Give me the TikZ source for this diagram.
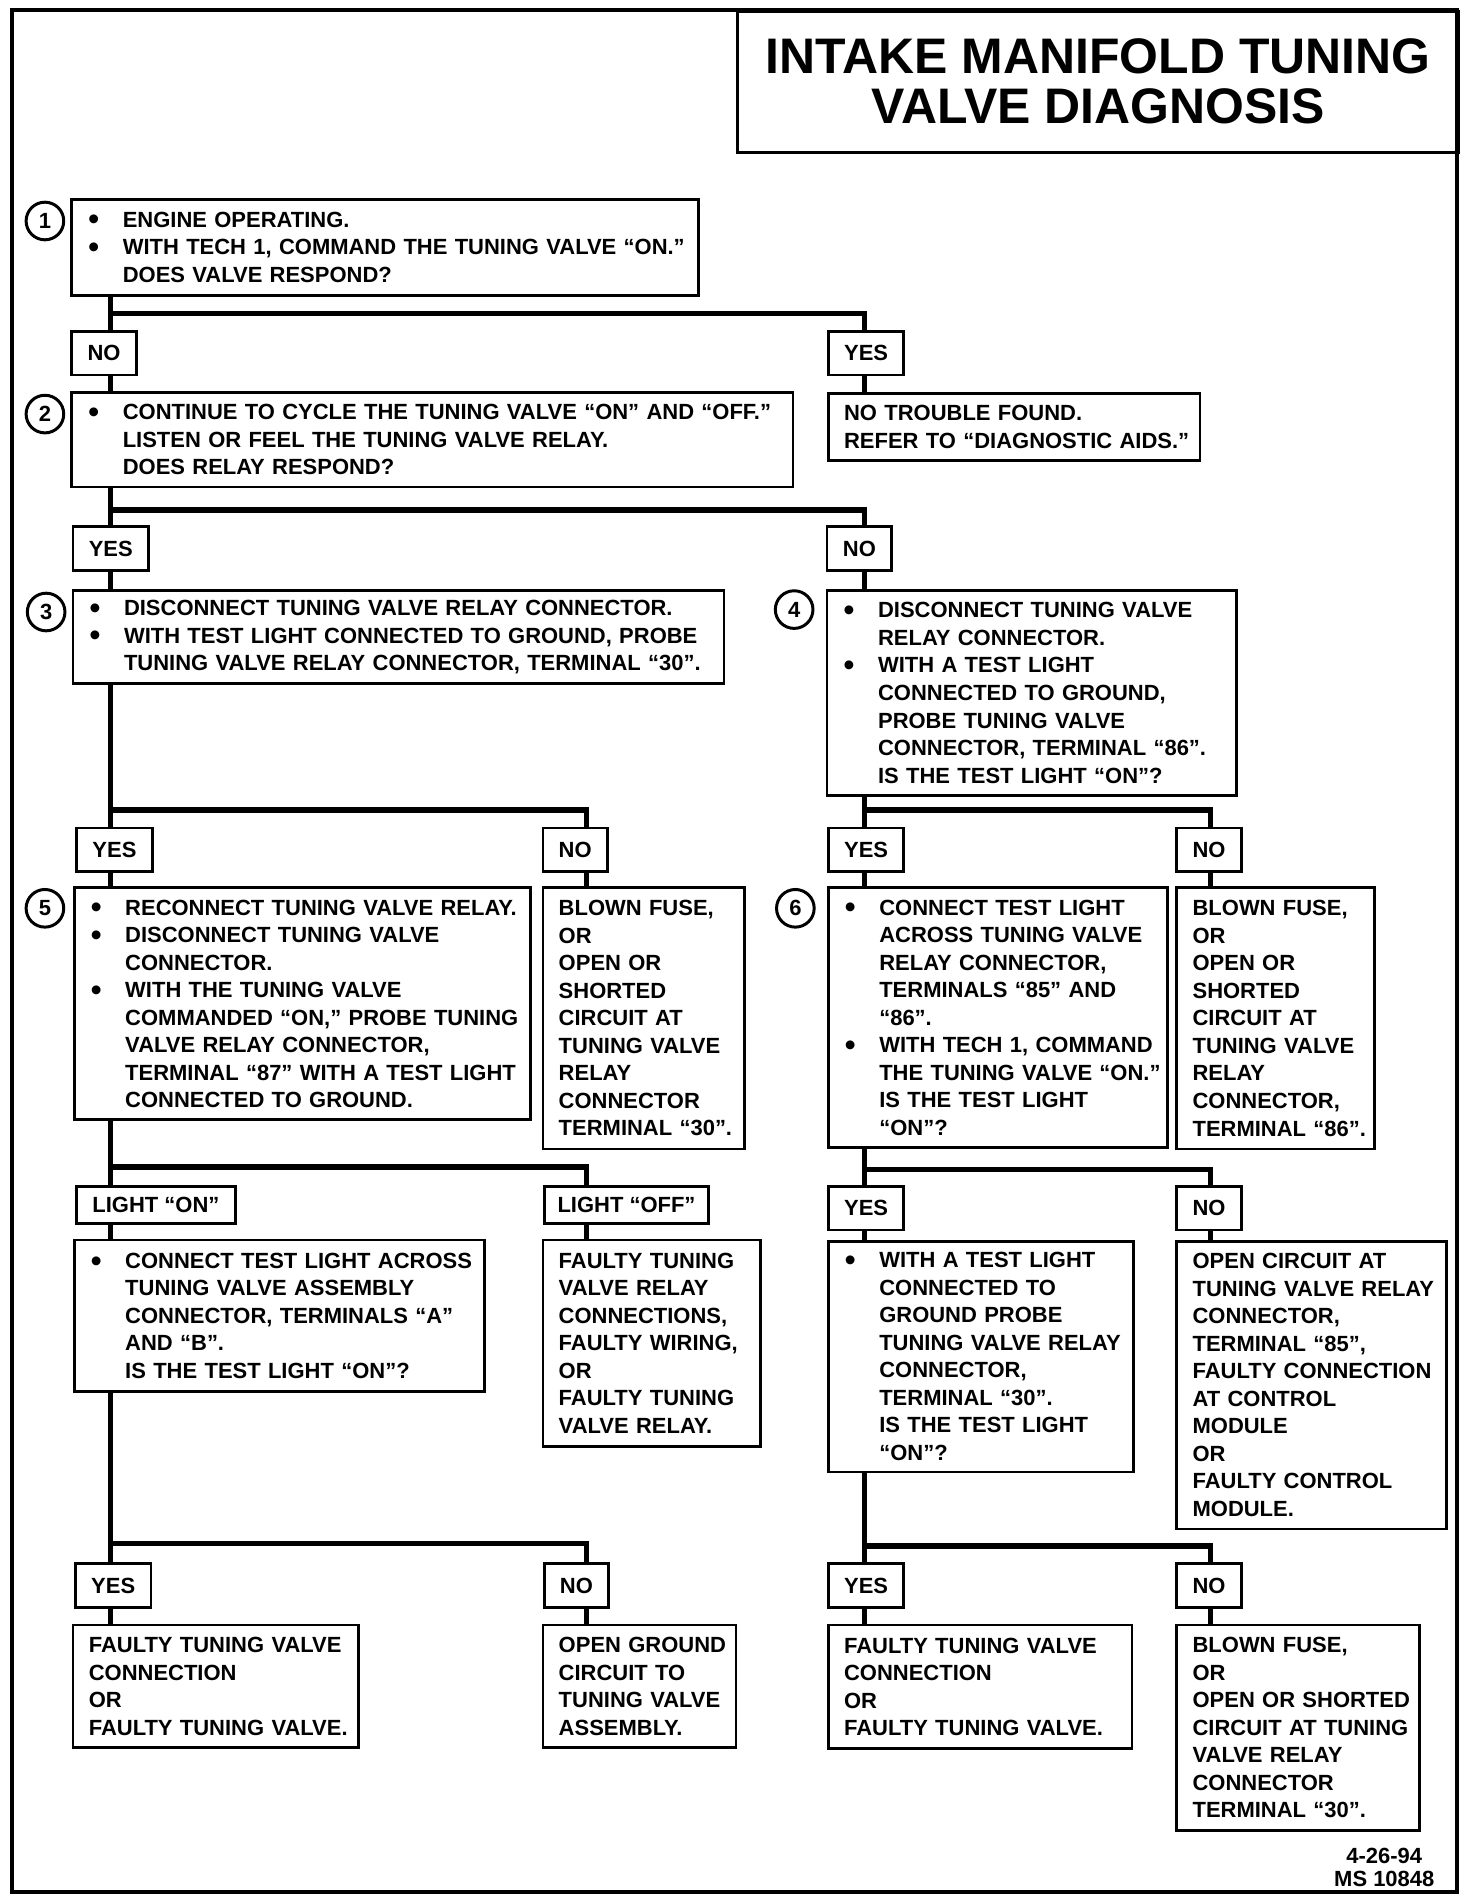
\documentclass[tikz,border=0pt]{standalone}
\usepackage{fontspec}
\setmainfont{Liberation Sans}
\usetikzlibrary{positioning}

\newcommand\bodyfont{\fontsize{10.3}{12.9}\selectfont\bfseries}
\newcommand\titlefont{\fontsize{23.4}{23.4}\selectfont\bfseries}
\newcommand\bu{\leavevmode\llap{\raisebox{-0.12em}{\scalebox{1.4}{\textbullet}}\hspace{0.39cm}}}

\begin{document}
\begin{tikzpicture}[x=0.02cm, y=-0.02cm,
    stepbox/.style={draw, line width=1.3pt, anchor=north west, inner xsep=0.08cm,
                    inner ysep=0pt, align=left, font=\bodyfont},
    bul/.style={stepbox, execute at begin node={\leftskip=0.76cm\rightskip=0pt plus 1fill minus 3cm}},
    plain/.style={stepbox, execute at begin node={\leftskip=0.18cm\rightskip=0pt plus 1fill minus 3cm}},
    sz/.style 2 args={text width=#1*0.02cm-0.16cm, minimum height=#2*0.02cm},
    lbl/.style={draw, line width=1.3pt, inner xsep=0.26cm, inner ysep=0pt,
                minimum height=0.72cm, font=\bodyfont},
    num/.style={draw, circle, line width=1.4pt, minimum size=0.62cm, inner sep=0pt, font=\bodyfont},
    conn/.style={line width=2.6pt}
  ]
  \useasboundingbox (0,0) rectangle (1212,1568);
  \draw[line width=1.7pt] (10,8) rectangle (1200,1558);

  % title
  \node[draw, line width=1.5pt, anchor=north west, minimum width=594*0.02cm, minimum height=116*0.02cm,
        align=center, font=\titlefont] (ttl) at (606,8) {INTAKE MANIFOLD TUNING\\VALVE DIAGNOSIS};

  % steps
  \node[bul, sz={516}{79}] (s1) at (58,163) {\bu ENGINE OPERATING.\\
    \bu WITH TECH 1, COMMAND THE TUNING VALVE ``ON.''\\ DOES VALVE RESPOND?};
  \node[bul, sz={594}{78}] (s2) at (58,322) {\bu CONTINUE TO CYCLE THE TUNING VALVE ``ON'' AND ``OFF.''\\
    LISTEN OR FEEL THE TUNING VALVE RELAY.\\ DOES RELAY RESPOND?};
  \node[plain, sz={306}{55}] (ntf) at (681,323) {NO TROUBLE FOUND.\\ REFER TO ``DIAGNOSTIC AIDS.''};
  \node[bul, sz={536}{77}] (s3) at (59,485) {\bu DISCONNECT TUNING VALVE RELAY CONNECTOR.\\
    \bu WITH TEST LIGHT CONNECTED TO GROUND, PROBE\\ TUNING VALVE RELAY CONNECTOR, TERMINAL ``30''.};
  \node[bul, sz={337}{169}] (s4) at (680,485) {\bu DISCONNECT TUNING VALVE\\ RELAY CONNECTOR.\\
    \bu WITH A TEST LIGHT\\ CONNECTED TO GROUND,\\ PROBE TUNING VALVE\\
    CONNECTOR, TERMINAL ``86''.\\ IS THE TEST LIGHT ``ON''?};
  \node[bul, sz={376}{191}] (s5) at (60,730) {\bu RECONNECT TUNING VALVE RELAY.\\
    \bu DISCONNECT TUNING VALVE\\ CONNECTOR.\\ \bu WITH THE TUNING VALVE\\
    COMMANDED ``ON,'' PROBE TUNING\\ VALVE RELAY CONNECTOR,\\
    TERMINAL ``87'' WITH A TEST LIGHT\\ CONNECTED TO GROUND.};
  \node[plain, sz={166}{215}] (fuseA) at (446,730) {BLOWN FUSE,\\ OR\\ OPEN OR\\ SHORTED\\
    CIRCUIT AT\\ TUNING VALVE\\ RELAY\\ CONNECTOR\\ TERMINAL ``30''.};
  \node[bul, sz={279}{214}] (s6) at (681,730) {\bu CONNECT TEST LIGHT\\ ACROSS TUNING VALVE\\
    RELAY CONNECTOR,\\ TERMINALS ``85'' AND\\ ``86''.\\ \bu WITH TECH 1, COMMAND\\
    THE TUNING VALVE ``ON.''\\ IS THE TEST LIGHT\\ ``ON''?};
  \node[plain, sz={163}{215}] (fuseB) at (968,730) {BLOWN FUSE,\\ OR\\ OPEN OR\\ SHORTED\\
    CIRCUIT AT\\ TUNING VALVE\\ RELAY\\ CONNECTOR,\\ TERMINAL ``86''.};
  \node[bul, sz={338}{125}] (across) at (60,1020) {\bu CONNECT TEST LIGHT ACROSS\\
    TUNING VALVE ASSEMBLY\\ CONNECTOR, TERMINALS ``A''\\ AND ``B''.\\ IS THE TEST LIGHT ``ON''?};
  \node[plain, sz={179}{170}] (relayfault) at (446,1020) {FAULTY TUNING\\ VALVE RELAY\\
    CONNECTIONS,\\ FAULTY WIRING,\\ OR\\ FAULTY TUNING\\ VALVE RELAY.};
  \node[bul, sz={251}{190}] (probe30) at (681,1021) {\bu WITH A TEST LIGHT\\ CONNECTED TO\\
    GROUND PROBE\\ TUNING VALVE RELAY\\ CONNECTOR,\\ TERMINAL ``30''.\\
    IS THE TEST LIGHT\\ ``ON''?};
  \node[plain, sz={222}{237}] (opencct) at (968,1021) {OPEN CIRCUIT AT\\ TUNING VALVE RELAY\\
    CONNECTOR,\\ TERMINAL ``85'',\\ FAULTY CONNECTION\\ AT CONTROL\\ MODULE\\ OR\\
    FAULTY CONTROL\\ MODULE.};
  \node[plain, sz={235}{101}] (valveA) at (59,1337) {FAULTY TUNING VALVE\\ CONNECTION\\ OR\\
    FAULTY TUNING VALVE.};
  \node[plain, sz={159}{101}] (gndopen) at (446,1337) {OPEN GROUND\\ CIRCUIT TO\\ TUNING VALVE\\
    ASSEMBLY.};
  \node[plain, sz={250}{102}] (valveB) at (681,1337) {FAULTY TUNING VALVE\\ CONNECTION\\ OR\\
    FAULTY TUNING VALVE.};
  \node[plain, sz={200}{169}] (fuseC) at (968,1337) {BLOWN FUSE,\\ OR\\ OPEN OR SHORTED\\
    CIRCUIT AT TUNING\\ VALVE RELAY\\ CONNECTOR\\ TERMINAL ``30''.};

  % step numbers
  \node[num] (c1) at ([shift={(-21,19)}]s1.north west) {1};
  \node[num] (c2) at ([shift={(-21,19)}]s2.north west) {2};
  \node[num] (c3) at ([shift={(-21,19)}]s3.north west) {3};
  \node[num] (c4) at ([shift={(-26,17)}]s4.north west) {4};
  \node[num] (c5) at ([shift={(-23,18)}]s5.north west) {5};
  \node[num] (c6) at ([shift={(-26,18)}]s6.north west) {6};

  % answer labels
  \node[lbl, above right=0.24cm and 0cm of s2.north west] (no1) {NO};
  \node[lbl, above right=0.26cm and 0cm of ntf.north west] (yes1) {YES};
  \node[lbl, above right=0.28cm and 0cm of s3.north west] (yes2) {YES};
  \node[lbl, above right=0.28cm and 0cm of s4.north west] (no2) {NO};
  \node[lbl, above right=0.22cm and 0.04cm of s5.north west] (yes3) {YES};
  \node[lbl, above right=0.22cm and 0cm of fuseA.north west] (no3) {NO};
  \node[lbl, above right=0.22cm and 0cm of s6.north west] (yes4) {YES};
  \node[lbl, above right=0.22cm and 0cm of fuseB.north west] (no4) {NO};
  \node[lbl, minimum height=0.62cm, above right=0.22cm and 0.04cm of across.north west] (lon) {LIGHT ``ON''};
  \node[lbl, minimum height=0.62cm, inner xsep=0.22cm, above right=0.22cm and 0.02cm of relayfault.north west] (loff) {LIGHT ``OFF''};
  \node[lbl, above right=0.14cm and 0cm of probe30.north west] (yes6) {YES};
  \node[lbl, above right=0.14cm and 0cm of opencct.north west] (no6) {NO};
  \node[lbl, above right=0.24cm and 0.04cm of valveA.north west] (yes7) {YES};
  \node[lbl, above right=0.24cm and 0.02cm of gndopen.north west] (no7) {NO};
  \node[lbl, above right=0.24cm and 0cm of valveB.north west] (yes8) {YES};
  \node[lbl, above right=0.24cm and 0cm of fuseC.north west] (no8) {NO};

  \node[font=\fontsize{10.3}{10.8}\selectfont\bfseries, align=center, inner sep=0pt] (ms) at (1140,1538) {4-26-94\\MS 10848};

  % branch points
  \coordinate (j1) at (91,258);   \coordinate (k1) at (712,258);
  \coordinate (j2) at (91,420);   \coordinate (k2) at (712,420);
  \coordinate (j3) at (91,667);   \coordinate (k3) at (483,667);
  \coordinate (j4) at (712,667);  \coordinate (k4) at (997,667);
  \coordinate (j5) at (91,961);   \coordinate (k5) at (483,961);
  \coordinate (j6) at (712,963);  \coordinate (k6) at (997,963);
  \coordinate (j7) at (91,1271);  \coordinate (k7) at (483,1271);
  \coordinate (j8) at (712,1273); \coordinate (k8) at (997,1273);

  % flow lines
  \draw[conn] (s1.south -| j1) -- (no1.north -| j1);
  \draw[conn] (j1) -- (k1) -- (yes1.north -| k1);
  \draw[conn] (no1.south -| j1) -- (s2.north -| j1);
  \draw[conn] (yes1.south -| k1) -- (ntf.north -| k1);

  \draw[conn] (s2.south -| j2) -- (yes2.north -| j2);
  \draw[conn] (j2) -- (k2) -- (no2.north -| k2);
  \draw[conn] (yes2.south -| j2) -- (s3.north -| j2);
  \draw[conn] (no2.south -| k2) -- (s4.north -| k2);

  \draw[conn] (s3.south -| j3) -- (yes3.north -| j3);
  \draw[conn] (j3) -- (k3) -- (no3.north -| k3);
  \draw[conn] (yes3.south -| j3) -- (s5.north -| j3);
  \draw[conn] (no3.south -| k3) -- (fuseA.north -| k3);

  \draw[conn] (s4.south -| j4) -- (yes4.north -| j4);
  \draw[conn] (j4) -- (k4) -- (no4.north -| k4);
  \draw[conn] (yes4.south -| j4) -- (s6.north -| j4);
  \draw[conn] (no4.south -| k4) -- (fuseB.north -| k4);

  \draw[conn] (s5.south -| j5) -- (lon.north -| j5);
  \draw[conn] (j5) -- (k5) -- (loff.north -| k5);
  \draw[conn] (lon.south -| j5) -- (across.north -| j5);
  \draw[conn] (loff.south -| k5) -- (relayfault.north -| k5);

  \draw[conn] (s6.south -| j6) -- (yes6.north -| j6);
  \draw[conn] (j6) -- (k6) -- (no6.north -| k6);
  \draw[conn] (yes6.south -| j6) -- (probe30.north -| j6);
  \draw[conn] (no6.south -| k6) -- (opencct.north -| k6);

  \draw[conn] (across.south -| j7) -- (yes7.north -| j7);
  \draw[conn] (j7) -- (k7) -- (no7.north -| k7);
  \draw[conn] (yes7.south -| j7) -- (valveA.north -| j7);
  \draw[conn] (no7.south -| k7) -- (gndopen.north -| k7);

  \draw[conn] (probe30.south -| j8) -- (yes8.north -| j8);
  \draw[conn] (j8) -- (k8) -- (no8.north -| k8);
  \draw[conn] (yes8.south -| j8) -- (valveB.north -| j8);
  \draw[conn] (no8.south -| k8) -- (fuseC.north -| k8);
\end{tikzpicture}
\end{document}
